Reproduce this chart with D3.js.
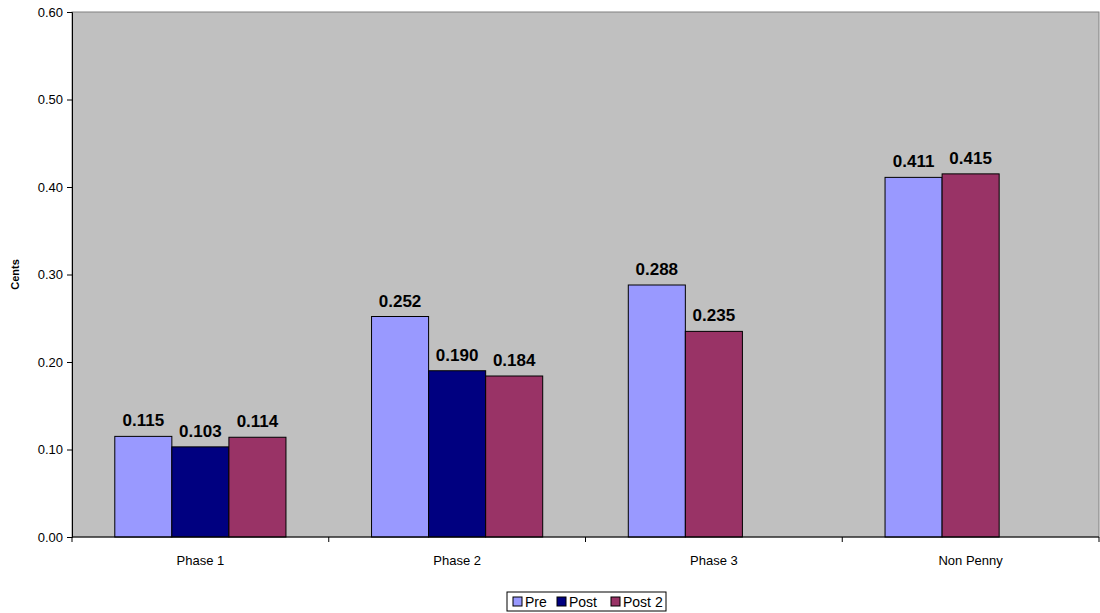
<!DOCTYPE html>
<meta charset="utf-8">
<style>
  body { margin: 0; background: #fff; }
  text { font-family: Arial, "Liberation Sans", sans-serif; }
</style>
<body>
<svg width="1100" height="613"></svg>
<script src="https://cdn.jsdelivr.net/npm/d3@7"></script>
<script>

    var categories = ["Phase 1", "Phase 2", "Phase 3", "Non Penny"];
    var seriesNames = ["Pre", "Post", "Post 2"];
    var pre = [0.115, 0.252, 0.288, 0.411];
    var post = [0.103, 0.190, null, null];
    var post2 = [0.114, 0.184, 0.235, 0.415];
    var yTicks = [0, 0.1, 0.2, 0.3, 0.4, 0.5, 0.6];
    var colors = ["#9999ff", "#000080", "#993366"];

    var seriesValues = [pre, post, post2];

    var svg = d3.select("svg");
    var margin = {top: 12, right: 1, bottom: 76, left: 72},
        width = +svg.attr("width") - margin.left - margin.right,
        height = +svg.attr("height") - margin.top - margin.bottom;

    var g = svg.append("g")
        .attr("transform", "translate(" + margin.left + "," + margin.top + ")");

    // plot background
    g.append("rect")
        .attr("width", width)
        .attr("height", height)
        .attr("fill", "#c0c0c0")
        .attr("stroke", "#808080")
        .attr("stroke-width", 1);

    var x = d3.scaleBand().domain(categories).range([0, width]);
    var slot = d3.scaleBand().domain([0, 1, 2])
        .range([0, x.bandwidth()]).paddingOuter(0.75).paddingInner(0);
    var y = d3.scaleLinear().domain([0, 0.6]).range([height, 0]);

    // bars: values present in a category are packed into consecutive slots
    var bars = [];
    categories.forEach(function (c, ci) {
        var k = 0;
        seriesValues.forEach(function (vals, si) {
            if (vals[ci] != null) {
                bars.push({cat: c, series: si, value: vals[ci], slot: k});
                k++;
            }
        });
    });

    g.selectAll(".bar")
        .data(bars)
        .enter().append("rect")
        .attr("class", "bar")
        .attr("x", function (d) { return x(d.cat) + slot(d.slot); })
        .attr("width", slot.bandwidth())
        .attr("y", function (d) { return y(d.value); })
        .attr("height", function (d) { return height - y(d.value); })
        .attr("fill", function (d) { return colors[d.series]; })
        .attr("stroke", "#000")
        .attr("stroke-width", 1);

    g.selectAll(".lbl")
        .data(bars)
        .enter().append("text")
        .attr("class", "lbl")
        .attr("x", function (d) { return x(d.cat) + slot(d.slot) + slot.bandwidth() / 2; })
        .attr("y", function (d) { return y(d.value) - 10; })
        .attr("text-anchor", "middle")
        .style("font-size", "17px")
        .style("font-weight", "bold")
        .text(function (d) { return d.value.toFixed(3); });

    // y axis
    var yAxis = g.append("g")
        .call(d3.axisLeft(y).tickValues(yTicks).tickFormat(d3.format(".2f")).tickSize(5).tickPadding(4));
    yAxis.select(".domain").attr("stroke", "#000");
    yAxis.selectAll("text").style("font-size", "13px").attr("fill", "#000");

    // x axis with ticks between categories
    var xAxis = g.append("g")
        .attr("transform", "translate(0," + height + ")");
    xAxis.append("line")
        .attr("x1", 0).attr("x2", width)
        .attr("stroke", "#000");
    xAxis.selectAll(".sep")
        .data(categories)
        .enter().append("line")
        .attr("x1", function (d) { return x(d); })
        .attr("x2", function (d) { return x(d); })
        .attr("y1", 0).attr("y2", 5)
        .attr("stroke", "#000");
    xAxis.append("line")
        .attr("x1", width).attr("x2", width)
        .attr("y1", 0).attr("y2", 5)
        .attr("stroke", "#000");
    xAxis.selectAll(".cat")
        .data(categories)
        .enter().append("text")
        .attr("x", function (d) { return x(d) + x.bandwidth() / 2; })
        .attr("y", 28)
        .attr("text-anchor", "middle")
        .style("font-size", "13px")
        .text(function (d) { return d; });

    // y title
    svg.append("text")
        .attr("transform", "translate(19," + (margin.top + height / 2) + ") rotate(-90)")
        .attr("text-anchor", "middle")
        .style("font-size", "11px")
        .style("font-weight", "bold")
        .text("Cents");

    // legend
    var legend = svg.append("g").attr("transform", "translate(507,592)");
    legend.append("rect")
        .attr("width", 159).attr("height", 19)
        .attr("fill", "#fff").attr("stroke", "#000");
    var offsets = [6, 50, 104];
    seriesNames.forEach(function (s, i) {
        legend.append("rect")
            .attr("x", offsets[i]).attr("y", 5)
            .attr("width", 9).attr("height", 9)
            .attr("fill", colors[i]).attr("stroke", "#000");
        legend.append("text")
            .attr("x", offsets[i] + 12).attr("y", 14.5)
            .style("font-size", "14px")
            .text(s);
    });

</script>
</body>
